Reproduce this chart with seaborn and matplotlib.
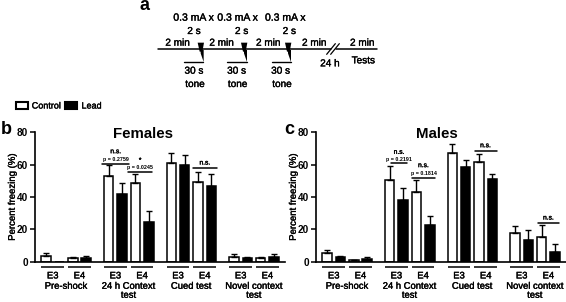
import matplotlib
matplotlib.use("Agg")
import matplotlib.patheffects as pe
import matplotlib.pyplot as plt
import numpy as np
import pandas as pd
import seaborn as sns
from matplotlib.patches import Patch, Polygon
from matplotlib.text import Text

sns.set_theme(
    style="ticks",
    rc={"text.color": "black", "axes.labelcolor": "black", "xtick.color": "black",
        "ytick.color": "black", "axes.edgecolor": "black"},
)
plt.rcParams["font.family"] = ["Liberation Sans", "DejaVu Sans"]

W, H = 566, 302

tests = ["Pre-shock", "24 h Context\ntest", "Cued test", "Novel context\ntest"]
genotypes = ["E3", "E4"]
treatments = ["Control", "Lead"]

# order: E3 control, E3 lead, E4 control, E4 lead for each test
female_means = [3.7, 0, 2.0, 2.2, 52.8, 41.8, 48.5, 24.5, 61, 59.5, 49.5, 47, 2.8, 2.5, 2.0, 3.2]
female_tops = [5.5, 0, 2.8, 3.3, 59.5, 48.5, 54.5, 31.5, 67, 66, 55.5, 54.5, 4.5, 3.2, 3.2, 4.5]
male_means = [5.3, 2.6, 0.8, 1.7, 50.5, 38, 42.8, 22.7, 67.5, 58.3, 61.5, 51, 17.7, 13.2, 15, 6]
male_tops = [7, 3.8, 1.2, 2.8, 59, 45.5, 50.5, 28.5, 72.5, 62.8, 66.5, 54, 22.3, 19.3, 22.5, 11]

# (left, right, bar height, n.s./star text, text height, p text, p height)
female_sig = [
    (306, 388, 60.4, "n.s.", 68, "p = 0.2759", 63),
    (383, 457, 55.7, "*", 62.5, "p = 0.0245", 58.5),
    (578, 650, 58, "n.s.", 61, None, None),
]
male_sig = [
    (330, 378, 60.8, "n.s.", 67.6, "p = 0.2191", 63.3),
    (392, 462, 52, "n.s.", 59.4, "p = 0.1814", 54.8),
    (580, 646, 68.7, "n.s.", 71.7, None, None),
    (770, 833, 24, "n.s.", 27, None, None),
]

GROUP_STEP = 187.7 / 40


def zoom_x(z):
    return (z - 138) / 40


def make_frame(means, tops):
    rows = []
    for i, (m, t) in enumerate(zip(means, tops)):
        g = i // 4
        rows.append(
            {
                "pos": g * GROUP_STEP + i % 4,
                "mean": m,
                "top": t,
                "treatment": treatments[i % 2],
            }
        )
    return pd.DataFrame(rows)


def draw_panel(rect, means, tops, title, sig):
    left, right, top, bottom = rect
    ax = fig.add_axes([left / W, 1 - bottom / H, (right - left) / W, (bottom - top) / H])
    df = make_frame(means, tops)
    sns.barplot(
        data=df, x="pos", y="mean", hue="treatment", hue_order=treatments,
        palette={"Control": "white", "Lead": "black"}, native_scale=True,
        dodge=False, width=0.72, edgecolor="black", linewidth=1.1,
        legend=False, ax=ax, errorbar=None,
    )
    # upper error caps only
    has_err = df["top"] > df["mean"]
    ax.errorbar(
        df.loc[has_err, "pos"], df.loc[has_err, "mean"],
        yerr=[np.zeros(has_err.sum()), (df["top"] - df["mean"])[has_err]],
        fmt="none", ecolor="black", elinewidth=1.0, capsize=2.3, capthick=1.0,
    )
    ax.set_xlim(-0.825, 17.9)
    ax.set_ylim(0, 80)
    ax.set_yticks([0, 20, 40, 60, 80])
    ax.set_yticklabels(["0", "20", "40", "60", "80"], fontsize=7.2, fontweight="bold")
    ax.set_ylabel("Percent freezing (%)", fontsize=6.9, labelpad=0)
    ax.set_xlabel("")
    ticks = []
    for g in range(4):
        ticks += [g * GROUP_STEP + 0.5, g * GROUP_STEP + 2.5]
    ax.set_xticks(ticks)
    ax.set_xticklabels(genotypes * 4, fontsize=6.8)
    ax.tick_params(axis="x", length=0, pad=7)
    ax.tick_params(axis="y", length=3.5, width=1.1, pad=1.5)
    for side in ["top", "right"]:
        ax.spines[side].set_visible(False)
    for side in ["left", "bottom"]:
        ax.spines[side].set_linewidth(1.2)
    trans = ax.get_xaxis_transform()
    for t in ticks:
        ax.plot([t - 0.85, t + 0.85], [-0.039, -0.039], color="black", lw=1.1,
                transform=trans, clip_on=False, solid_capstyle="butt")
    for g, name in enumerate(tests):
        ax.text(g * GROUP_STEP + 1.5, -0.155, name, transform=trans, ha="center", va="top",
                fontsize=6.8, linespacing=1.0)
    for x0, x1, y, label, ly, ptext, py in sig:
        ax.plot([zoom_x(x0), zoom_x(x1)], [y, y], color="black", lw=1.1, clip_on=False)
        cx = zoom_x((x0 + x1) / 2)
        ax.text(cx, ly, label, ha="center", va="center", fontsize=4.8)
        if ptext:
            ax.text(cx, py, ptext, ha="center", va="center", fontsize=3.9, fontweight="bold")
    ax.text(zoom_x(430 if title == "Females" else 468), 79, title, ha="center", va="center",
            fontsize=10.8, fontweight="bold")
    return ax


fig = plt.figure(figsize=(W / 100, H / 100), dpi=100)

ax_b = draw_panel((35, 285, 132.3, 261.7), female_means, female_tops, "Females", female_sig)
ax_c = draw_panel((316, 566, 132.3, 261.7), male_means, male_tops, "Males", male_sig)

# overlay in pixel coordinates for the protocol timeline and panel letters
ov = fig.add_axes([0, 0, 1, 1])
ov.set_xlim(0, W)
ov.set_ylim(H, 0)
ov.axis("off")
ov.patch.set_alpha(0)


def zx(v):
    return 130 + v / 3


def zy(v):
    return v / 3


ov.text(0.5, 134.5, "b", fontsize=13, fontweight="bold", ha="left", va="baseline")
ov.text(284, 134.5, "c", fontsize=13, fontweight="bold", ha="left", va="baseline")
ov.text(zx(27), 10.5, "a", fontsize=13, fontweight="bold", ha="left", va="baseline")

for x in [130, 262, 405]:
    ov.text(zx(x), zy(53), "0.3 mA x", fontsize=7.5, ha="left", va="center")
for x in [192, 335, 478]:
    ov.text(zx(x), zy(93), "2 s", fontsize=7.2, ha="center", va="center")
for x in [143, 275, 415, 553, 697]:
    ov.text(zx(x), zy(128), "2 min", fontsize=7.2, ha="center", va="center")

ov.plot([zx(85), zx(603)], [zy(146), zy(146)], color="black", lw=1.1)
ov.plot([zx(618), zx(742)], [zy(146), zy(146)], color="black", lw=1.1)
for x in [603, 615]:
    ov.plot([zx(x - 13), zx(x + 13)], [zy(163), zy(131)], color="black", lw=0.9)

for x0, x1 in [(163, 220), (292, 350), (427, 482)]:
    ov.plot([zx(x0), zx(x1)], [zy(185), zy(185)], color="black", lw=1.0)
    bolt = [(x1 - 17, 128), (x1 + 2, 128), (x1 - 2, 150), (x1 + 1, 150), (x1 + 1, 186),
            (x1 - 8, 160), (x1 - 8, 155), (x1 - 11, 155)]
    ov.add_patch(Polygon([(zx(a), zy(b)) for a, b in bolt], closed=True, color="black", lw=0))

for x in [192, 320, 452]:
    ov.text(zx(x), zy(212), "30 s", fontsize=7.2, ha="center", va="center")
for x in [195, 323, 456]:
    ov.text(zx(x), zy(252), "tone", fontsize=7.2, ha="center", va="center")
ov.text(zx(600), zy(190), "24 h", fontsize=7.2, ha="center", va="center")
ov.text(zx(700), zy(181), "Tests", fontsize=7.2, ha="center", va="center")

handles = [Patch(facecolor="white", edgecolor="black", linewidth=1.5, label="Control"),
           Patch(facecolor="black", edgecolor="black", linewidth=1.5, label="Lead")]
fig.legend(handles=handles, ncol=2, frameon=False, fontsize=6.5, loc="center left",
           bbox_to_anchor=(15.5 / W, 1 - 106 / H), handlelength=1.35, handleheight=0.85,
           handletextpad=0.45, columnspacing=0.5, borderpad=0, borderaxespad=0)

# the original's small labels print heavier than the regular weight
for t in fig.findobj(Text):
    if t.get_fontweight() != "bold" and t.get_text():
        t.set_path_effects([pe.withStroke(linewidth=0.25, foreground="black")])

fig.savefig("out.png", dpi=100)
